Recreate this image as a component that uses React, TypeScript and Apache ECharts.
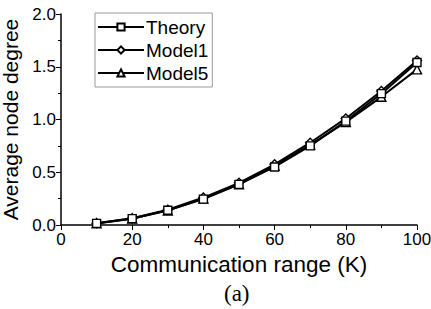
import React, { useEffect, useRef } from "react";
import * as echarts from "echarts";

const ranges = [10, 20, 30, 40, 50, 60, 70, 80, 90, 100];
const theory = [0.015, 0.06, 0.14, 0.245, 0.385, 0.55, 0.75, 0.985, 1.245, 1.54];
const model1 = [0.017, 0.065, 0.145, 0.26, 0.4, 0.575, 0.78, 1.01, 1.27, 1.56];
const model5 = [0.016, 0.062, 0.138, 0.25, 0.385, 0.56, 0.76, 0.975, 1.215, 1.475];
const seriesNames = ["Theory", "Model1", "Model5"];
const symbols = ["rect", "diamond", "triangle"];

export default function App() {
  const ref = useRef<HTMLDivElement>(null);
  useEffect(() => {
    const chart = echarts.init(ref.current!, null, { renderer: "svg" });
    const font = "Liberation Sans, Arial, sans-serif";
    const datasets = [theory, model1, model5];
    chart.setOption({
      animation: false,
      grid: { left: 61, right: 14, top: 14, bottom: 84, containLabel: false, outerBoundsMode: "none" },
      legend: {
        orient: "vertical",
        left: 95,
        top: 13,
        itemWidth: 46,
        itemHeight: 9,
        itemGap: 3,
        padding: [4, 4, 4, 2],
        borderColor: "#999",
        borderWidth: 1,
        textStyle: { fontFamily: font, fontSize: 19, lineHeight: 20, color: "#000", padding: [0, 0, 0, -3] },
        data: seriesNames,
      },
      xAxis: {
        type: "value",
        min: 0,
        max: 100,
        interval: 20,
        name: "Communication range (K)",
        nameLocation: "middle",
        nameGap: 21,
        nameTextStyle: { fontFamily: font, fontSize: 22.5, color: "#000" },
        axisLine: { onZero: false, lineStyle: { color: "#000", width: 1.5 } },
        axisTick: { inside: false, length: 5, lineStyle: { color: "#000" } },
        minorTick: { show: true, splitNumber: 2, length: 3, lineStyle: { color: "#000" } },
        axisLabel: { fontFamily: font, fontSize: 17, color: "#000", margin: 6 },
        splitLine: { show: false },
      },
      yAxis: {
        type: "value",
        min: 0,
        max: 2,
        interval: 0.5,
        name: "Average node degree",
        nameLocation: "middle",
        nameGap: 26,
        nameTextStyle: { fontFamily: font, fontSize: 21, lineHeight: 22, color: "#000" },
        axisLine: { show: true, lineStyle: { color: "#000", width: 1.5 } },
        axisTick: { show: true, inside: false, length: 5, lineStyle: { color: "#000" } },
        minorTick: { show: true, splitNumber: 2, length: 3, lineStyle: { color: "#000" } },
        axisLabel: { fontFamily: font, fontSize: 17, color: "#000", margin: 5, formatter: (v: number) => v.toFixed(1) },
        splitLine: { show: false },
      },
      series: seriesNames.map((n, i) => ({
        name: n,
        type: "line",
        data: ranges.map((x, j) => [x, datasets[i][j]]),
        symbol: symbols[i],
        symbolSize: i === 0 ? 8 : 9,
        showAllSymbol: true,
        lineStyle: { color: "#000", width: 2 },
        itemStyle: { color: "#fff", borderColor: "#000", borderWidth: 1.4 },
        z: 3 - i,
      })),
      graphic: [
        {
          type: "text",
          left: 224,
          top: 282,
          style: { text: "(a)", fontFamily: "Liberation Serif, Times New Roman, serif", fontSize: 23, fill: "#000" },
        },
      ],
    });
    return () => chart.dispose();
  }, []);
  return <div ref={ref} style={{ width: 431, height: 309, position: "absolute", left: 0, top: 0 }} />;
}
